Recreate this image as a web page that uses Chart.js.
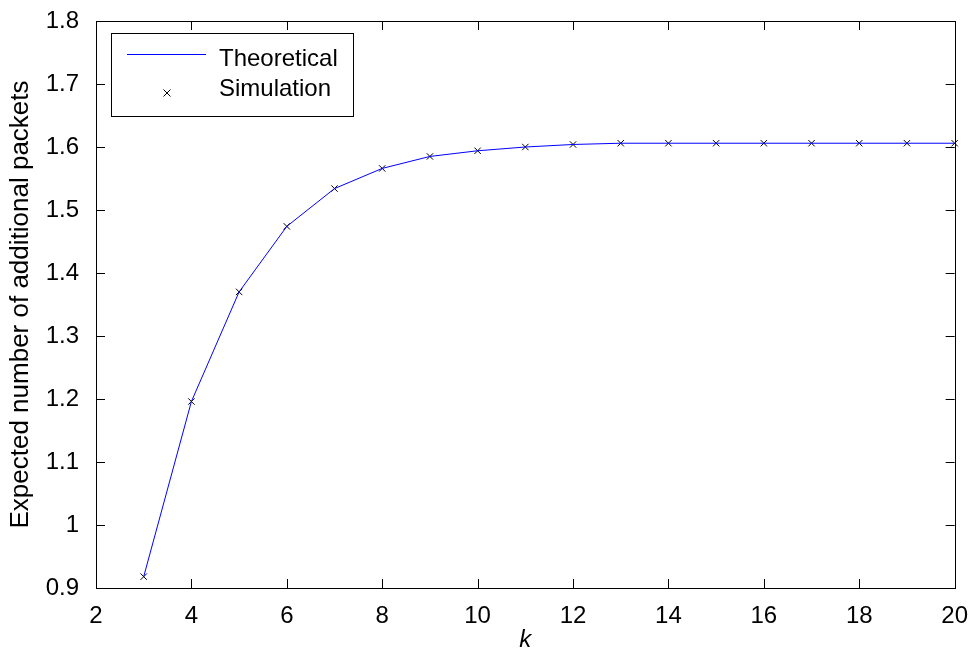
<!DOCTYPE html>
<html>
<head>
<meta charset="utf-8">
<script src="https://cdn.jsdelivr.net/npm/chart.js@4"></script>
<style>
  html, body { margin: 0; padding: 0; background: #fff; }
  #wrap { width: 974px; height: 655px; }
</style>
</head>
<body>
<div id="wrap"><canvas id="myChart" width="974" height="655"></canvas></div>
<script>
//chart data
const kValues = [3, 4, 5, 6, 7, 8, 9, 10, 11, 12, 13, 14, 15, 16, 17, 18, 19, 20];
const theoretical = [0.918, 1.196, 1.370, 1.474, 1.534, 1.566, 1.585, 1.594, 1.600, 1.604, 1.606, 1.606, 1.606, 1.606, 1.606, 1.606, 1.606, 1.606];
const simulation = [0.918, 1.196, 1.370, 1.474, 1.534, 1.566, 1.585, 1.594, 1.600, 1.604, 1.606, 1.606, 1.606, 1.606, 1.606, 1.606, 1.606, 1.606];
const seriesNames = ["Theoretical", "Simulation"];

const FONT = "Arial, 'Liberation Sans', sans-serif";

//box + inward ticks, matlab style
const matlabAxes = {
  id: "matlabAxes",
  afterDraw(chart) {
    const ctx = chart.ctx;
    const a = chart.chartArea;
    const xs = chart.scales.x, ys = chart.scales.y;
    const len = 9;
    ctx.save();
    ctx.strokeStyle = "#000";
    ctx.lineWidth = 1;
    ctx.beginPath();
    xs.ticks.forEach((t) => {
      const px = Math.round(xs.getPixelForValue(t.value)) + 0.5;
      ctx.moveTo(px, a.bottom); ctx.lineTo(px, a.bottom - len);
      ctx.moveTo(px, a.top); ctx.lineTo(px, a.top + len);
    });
    ys.ticks.forEach((t) => {
      const py = Math.round(ys.getPixelForValue(t.value)) + 0.5;
      ctx.moveTo(a.left, py); ctx.lineTo(a.left + len, py);
      ctx.moveTo(a.right, py); ctx.lineTo(a.right - len, py);
    });
    ctx.stroke();
    ctx.strokeRect(Math.round(a.left) + 0.5, Math.round(a.top) + 0.5,
      Math.round(a.right - a.left), Math.round(a.bottom - a.top));

    //legend box
    const lx = 111, ly = 33, lw = 242, lh = 83;
    ctx.fillStyle = "#fff";
    ctx.fillRect(lx, ly, lw, lh);
    ctx.strokeRect(lx + 0.5, ly + 0.5, lw, lh);
    ctx.strokeStyle = "#0000ff";
    ctx.beginPath();
    ctx.moveTo(127, 54.5); ctx.lineTo(206, 54.5);
    ctx.stroke();
    ctx.strokeStyle = "#000";
    ctx.beginPath();
    ctx.moveTo(163.5, 89.5); ctx.lineTo(170.5, 96.5);
    ctx.moveTo(170.5, 89.5); ctx.lineTo(163.5, 96.5);
    ctx.stroke();
    ctx.fillStyle = "#000";
    ctx.font = "24px " + FONT;
    ctx.textBaseline = "alphabetic";
    ctx.textAlign = "left";
    ctx.fillText(seriesNames[0], 219, 66);
    ctx.fillText(seriesNames[1], 219, 96);
    ctx.restore();
  },
};

const config = {
  type: "line",
  data: {
    labels: kValues,
    datasets: [
      {
        label: seriesNames[0],
        data: kValues.map((k, i) => ({ x: k, y: theoretical[i] })),
        borderColor: "#0000ff",
        borderWidth: 1,
        pointRadius: 0,
        fill: false,
        tension: 0,
      },
      {
        label: seriesNames[1],
        data: kValues.map((k, i) => ({ x: k, y: simulation[i] })),
        showLine: false,
        pointStyle: "crossRot",
        pointRadius: 4.5,
        pointBorderColor: "#000",
        pointBorderWidth: 1,
        clip: false,
      },
    ],
  },
  options: {
    responsive: false,
    animation: false,
    layout: { padding: { top: 0, right: 17, left: 0, bottom: 0 } },
    plugins: { legend: { display: false }, tooltip: { enabled: false } },
    scales: {
      x: {
        type: "linear",
        min: 2,
        max: 20,
        ticks: { stepSize: 2, color: "#000", font: { size: 24, family: FONT }, padding: 6, maxRotation: 0 },
        grid: { display: false },
        border: { display: false },
        title: { display: true, text: "k", color: "#000", font: { size: 24, family: FONT, style: "italic" }, padding: { top: 3, bottom: 0 } },
        afterFit: (s) => { s.height = 67; },
      },
      y: {
        min: 0.9,
        max: 1.8,
        ticks: {
          stepSize: 0.1,
          color: "#000",
          font: { size: 24, family: FONT, lineHeight: 1 },
          padding: 9,
          callback: (v) => String(+v.toFixed(1)),
        },
        grid: { display: false },
        border: { display: false },
        title: { display: true, text: "Expected number of additional packets", color: "#000", font: { size: 26, family: FONT }, padding: { top: 5, bottom: 0 } },
        afterFit: (s) => { s.width = 96; },
      },
    },
  },
  plugins: [matlabAxes],
};

const myChart = new Chart(document.getElementById("myChart"), config);
</script>
</body>
</html>
